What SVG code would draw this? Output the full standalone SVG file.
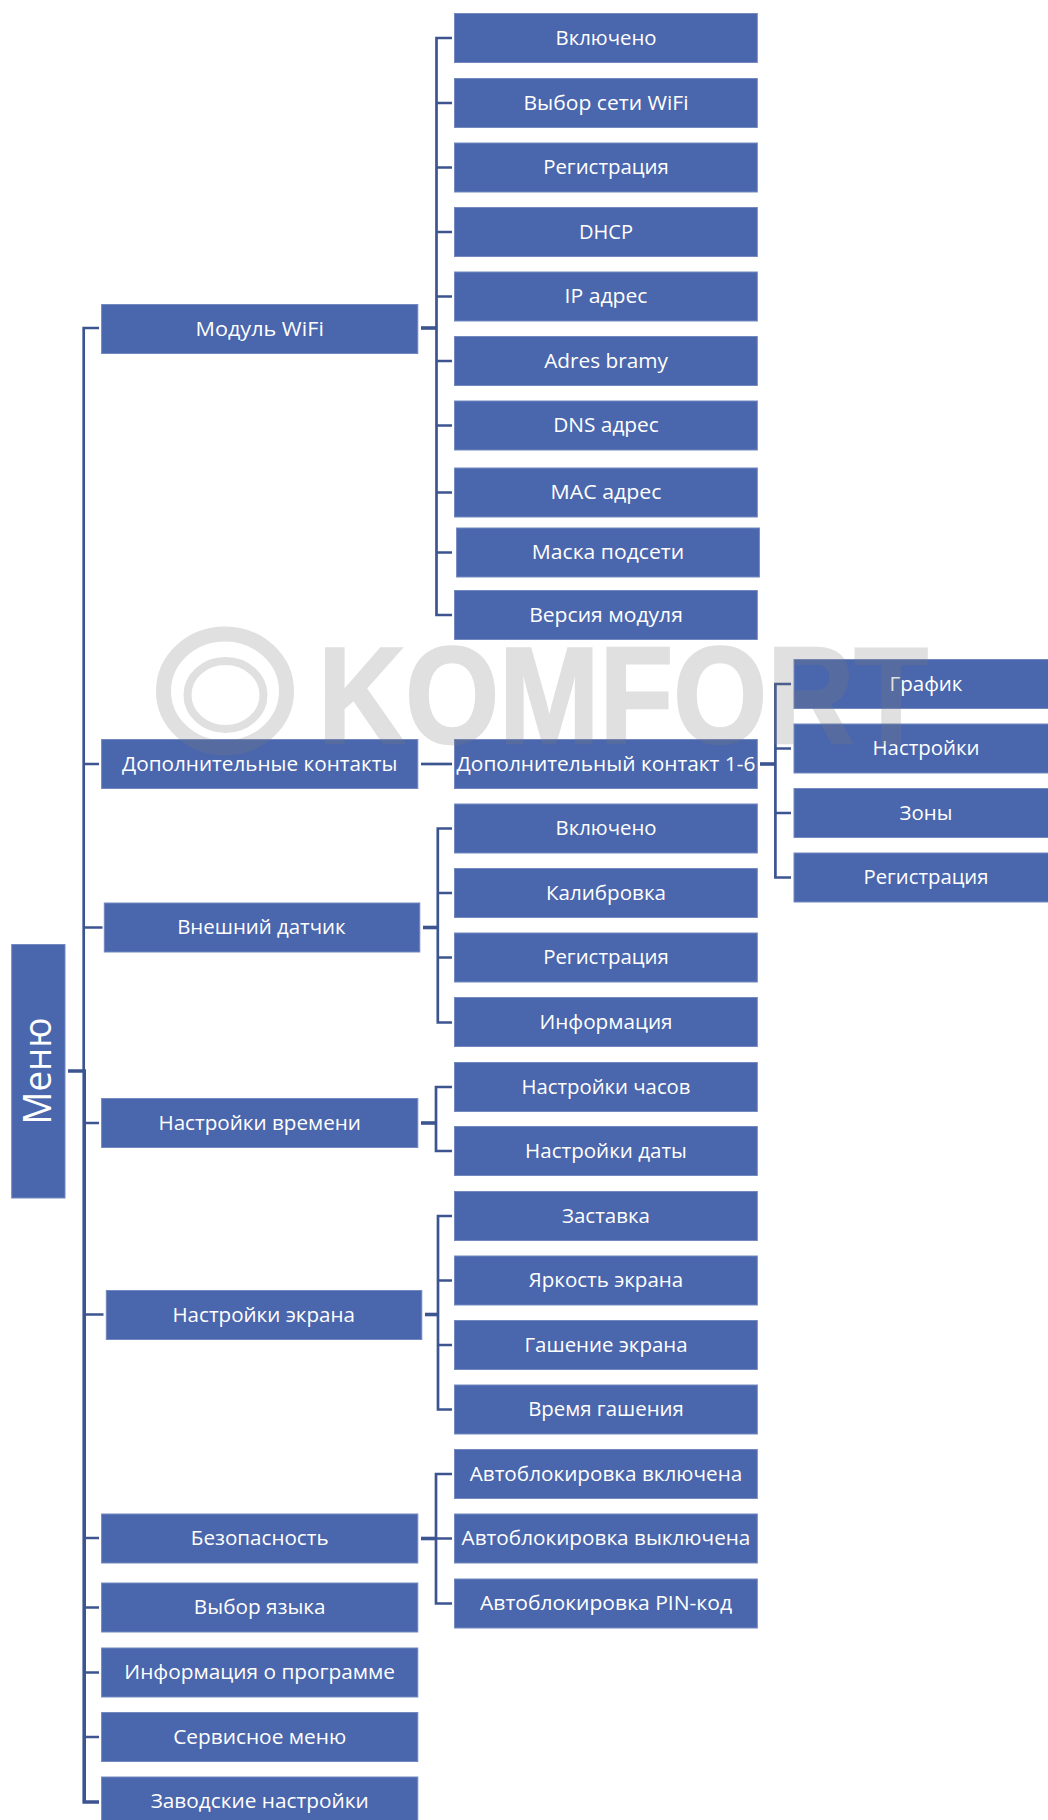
<svg xmlns="http://www.w3.org/2000/svg" width="1048" height="1820" viewBox="0 0 1048 1820">
<style>
.b{fill:#4A66AC;stroke:#7288BF;stroke-width:1}
.t{fill:#fff;font-family:"Open Sans","Noto Sans","Liberation Sans",sans-serif;font-size:20px;text-anchor:middle}
.c{fill:none;stroke:#3C5591;stroke-width:2.7}
.k{fill:none;stroke:#3C5591;stroke-width:3.6}
.w{fill:none;stroke:#7F7F7F}
</style>
<rect width="1048" height="1820" fill="#fff"/>
<g id="connectors">
<path class="c" d="M99 328H83.7V1071"/>
<path class="k" d="M68 1071H84.2V1802H99"/>
<path class="c" d="M84 764H99M84 927.5H102.500M84 1123H99M84 1314.500H103.500M84 1538H99M84 1607.500H99M84 1672.500H99M84 1737H99"/>
<path class="k" d="M421 328H437"/>
<path class="c" d="M452 38H436.500V615H452M437 103H452M437 167.500H452M437 232H452M437 296.500H452M437 361H452M437 425.500H452M437 492.500H452M437 552.500H452"/>
<path class="c" d="M421 764H452"/>
<path class="k" d="M760 764H775"/>
<path class="c" d="M791 684H775.400V877.500H791M775 748.500H791M775 813H791"/>
<path class="k" d="M423 927.500H438"/>
<path class="c" d="M452 828.500H437.800V1022.500H452M438 893H452M438 957.500H452"/>
<path class="k" d="M421 1123H436"/>
<path class="c" d="M452 1087H436V1151H452"/>
<path class="k" d="M425 1314.500H438"/>
<path class="c" d="M452 1216H438V1409.500H452M438 1280.500H452M438 1345H452"/>
<path class="k" d="M421 1538.500H436"/>
<path class="c" d="M452 1474H436V1603.500H452M436 1538.500H452"/>
</g>
<g id="menu"><rect class="b" x="11.700" y="944.500" width="53.300" height="253.500"/><text class="t" transform="translate(51 1071) rotate(-90)" x="0" y="0" style="font-size:38px" textLength="107" lengthAdjust="spacingAndGlyphs">Меню</text></g>
<g id="n-wifi"><rect class="b" x="101.600" y="304.500" width="316.200" height="49"/><text class="t" x="259.700" y="335.500" textLength="128.300" lengthAdjust="spacingAndGlyphs">Модуль WiFi</text></g>
<g id="n-vkl1"><rect class="b" x="454.500" y="13.500" width="302.800" height="49"/><text class="t" x="606" y="44.500" textLength="101" lengthAdjust="spacingAndGlyphs">Включено</text></g>
<g id="n-set"><rect class="b" x="454.500" y="78.500" width="302.800" height="49"/><text class="t" x="606" y="109.500" textLength="165" lengthAdjust="spacingAndGlyphs">Выбор сети WiFi</text></g>
<g id="n-reg1"><rect class="b" x="454.500" y="143" width="302.800" height="49"/><text class="t" x="606" y="174" textLength="125.700" lengthAdjust="spacingAndGlyphs">Регистрация</text></g>
<g id="n-dhcp"><rect class="b" x="454.500" y="207.500" width="302.800" height="49"/><text class="t" x="606" y="238.500" textLength="54" lengthAdjust="spacingAndGlyphs">DHCP</text></g>
<g id="n-ip"><rect class="b" x="454.500" y="272" width="302.800" height="49"/><text class="t" x="606" y="303" textLength="83" lengthAdjust="spacingAndGlyphs">IP адрес</text></g>
<g id="n-brama"><rect class="b" x="454.500" y="336.500" width="302.800" height="49"/><text class="t" x="606" y="367.500" textLength="123.700" lengthAdjust="spacingAndGlyphs">Adres bramy</text></g>
<g id="n-dns"><rect class="b" x="454.500" y="401" width="302.800" height="49"/><text class="t" x="606" y="432" textLength="105.600" lengthAdjust="spacingAndGlyphs">DNS адрес</text></g>
<g id="n-mac"><rect class="b" x="454.500" y="468" width="302.800" height="49"/><text class="t" x="606" y="499" textLength="111" lengthAdjust="spacingAndGlyphs">MAC адрес</text></g>
<g id="n-mask"><rect class="b" x="456.600" y="528" width="302.800" height="49"/><text class="t" x="608" y="559" textLength="152.400" lengthAdjust="spacingAndGlyphs">Маска подсети</text></g>
<g id="n-ver"><rect class="b" x="454.500" y="590.500" width="302.800" height="49"/><text class="t" x="606" y="621.500" textLength="153.700" lengthAdjust="spacingAndGlyphs">Версия модуля</text></g>
<g id="n-dops"><rect class="b" x="101.600" y="739.500" width="316.200" height="49"/><text class="t" x="259.700" y="770.500" textLength="275.400" lengthAdjust="spacingAndGlyphs">Дополнительные контакты</text></g>
<g id="n-dop"><rect class="b" x="454.500" y="739.500" width="302.800" height="49"/><text class="t" x="606" y="770.500" textLength="298.800" lengthAdjust="spacingAndGlyphs">Дополнительный контакт 1-6</text></g>
<g id="n-graf"><rect class="b" x="794" y="659.500" width="260" height="49"/><text class="t" x="926" y="690.500" textLength="72.900" lengthAdjust="spacingAndGlyphs">График</text></g>
<g id="n-nast"><rect class="b" x="794" y="724" width="260" height="49"/><text class="t" x="926" y="755" textLength="107" lengthAdjust="spacingAndGlyphs">Настройки</text></g>
<g id="n-zon"><rect class="b" x="794" y="788.500" width="260" height="49"/><text class="t" x="926" y="819.500" textLength="52.800" lengthAdjust="spacingAndGlyphs">Зоны</text></g>
<g id="n-reg2"><rect class="b" x="794" y="853" width="260" height="49"/><text class="t" x="926" y="884" textLength="125" lengthAdjust="spacingAndGlyphs">Регистрация</text></g>
<g id="n-dat"><rect class="b" x="104.300" y="903" width="315.500" height="49"/><text class="t" x="261.400" y="934" textLength="168.400" lengthAdjust="spacingAndGlyphs">Внешний датчик</text></g>
<g id="n-vkl2"><rect class="b" x="454.500" y="804" width="302.800" height="49"/><text class="t" x="606" y="835" textLength="101" lengthAdjust="spacingAndGlyphs">Включено</text></g>
<g id="n-kal"><rect class="b" x="454.500" y="868.500" width="302.800" height="49"/><text class="t" x="606" y="899.500" textLength="120" lengthAdjust="spacingAndGlyphs">Калибровка</text></g>
<g id="n-reg3"><rect class="b" x="454.500" y="933" width="302.800" height="49"/><text class="t" x="606" y="964" textLength="125.700" lengthAdjust="spacingAndGlyphs">Регистрация</text></g>
<g id="n-inf"><rect class="b" x="454.500" y="997.500" width="302.800" height="49"/><text class="t" x="606" y="1028.500" textLength="133" lengthAdjust="spacingAndGlyphs">Информация</text></g>
<g id="n-time"><rect class="b" x="101.600" y="1098.500" width="316.200" height="49"/><text class="t" x="259.700" y="1129.500" textLength="202.500" lengthAdjust="spacingAndGlyphs">Настройки времени</text></g>
<g id="n-clock"><rect class="b" x="454.500" y="1062.500" width="302.800" height="49"/><text class="t" x="606" y="1093.500" textLength="169" lengthAdjust="spacingAndGlyphs">Настройки часов</text></g>
<g id="n-date"><rect class="b" x="454.500" y="1126.500" width="302.800" height="49"/><text class="t" x="606" y="1157.500" textLength="161.800" lengthAdjust="spacingAndGlyphs">Настройки даты</text></g>
<g id="n-scr"><rect class="b" x="106.300" y="1290.500" width="315.500" height="49"/><text class="t" x="263.700" y="1321.500" textLength="182.500" lengthAdjust="spacingAndGlyphs">Настройки экрана</text></g>
<g id="n-zast"><rect class="b" x="454.500" y="1191.500" width="302.800" height="49"/><text class="t" x="606" y="1222.500" textLength="88" lengthAdjust="spacingAndGlyphs">Заставка</text></g>
<g id="n-yar"><rect class="b" x="454.500" y="1256" width="302.800" height="49"/><text class="t" x="606" y="1287" textLength="154.400" lengthAdjust="spacingAndGlyphs">Яркость экрана</text></g>
<g id="n-gash"><rect class="b" x="454.500" y="1320.500" width="302.800" height="49"/><text class="t" x="606" y="1351.500" textLength="163" lengthAdjust="spacingAndGlyphs">Гашение экрана</text></g>
<g id="n-vrem"><rect class="b" x="454.500" y="1385" width="302.800" height="49"/><text class="t" x="606" y="1416" textLength="155.700" lengthAdjust="spacingAndGlyphs">Время гашения</text></g>
<g id="n-bez"><rect class="b" x="101.600" y="1514" width="316.200" height="49"/><text class="t" x="259.700" y="1545" textLength="137.700" lengthAdjust="spacingAndGlyphs">Безопасность</text></g>
<g id="n-av1"><rect class="b" x="454.500" y="1449.500" width="302.800" height="49"/><text class="t" x="606" y="1480.500" textLength="272.700" lengthAdjust="spacingAndGlyphs">Автоблокировка включена</text></g>
<g id="n-av2"><rect class="b" x="454.500" y="1514" width="302.800" height="49"/><text class="t" x="606" y="1545" textLength="288.800" lengthAdjust="spacingAndGlyphs">Автоблокировка выключена</text></g>
<g id="n-av3"><rect class="b" x="454.500" y="1579" width="302.800" height="49"/><text class="t" x="606" y="1610" textLength="252" lengthAdjust="spacingAndGlyphs">Автоблокировка PIN-код</text></g>
<g id="n-lang"><rect class="b" x="101.600" y="1583" width="316.200" height="49"/><text class="t" x="259.700" y="1614" textLength="131.700" lengthAdjust="spacingAndGlyphs">Выбор языка</text></g>
<g id="n-info"><rect class="b" x="101.600" y="1648" width="316.200" height="49"/><text class="t" x="259.700" y="1679" textLength="270.700" lengthAdjust="spacingAndGlyphs">Информация о программе</text></g>
<g id="n-serv"><rect class="b" x="101.600" y="1712.500" width="316.200" height="49"/><text class="t" x="259.700" y="1743.500" textLength="173" lengthAdjust="spacingAndGlyphs">Сервисное меню</text></g>
<g id="n-fact"><rect class="b" x="101.600" y="1777" width="316.200" height="49"/><text class="t" x="259.700" y="1808" textLength="218" lengthAdjust="spacingAndGlyphs">Заводские настройки</text></g>
<g id="watermark" opacity="0.24">
<ellipse class="w" cx="225" cy="691" rx="61.500" ry="57" stroke-width="15"/>
<ellipse class="w" cx="225.500" cy="695" rx="38" ry="34" stroke-width="8"/>
<text x="318" y="743" fill="#7F7F7F" stroke="#7F7F7F" stroke-width="2.500" font-family="'Liberation Sans',sans-serif" font-weight="700" font-size="138" textLength="610" lengthAdjust="spacingAndGlyphs">KOMFORT</text>
</g>
</svg>
